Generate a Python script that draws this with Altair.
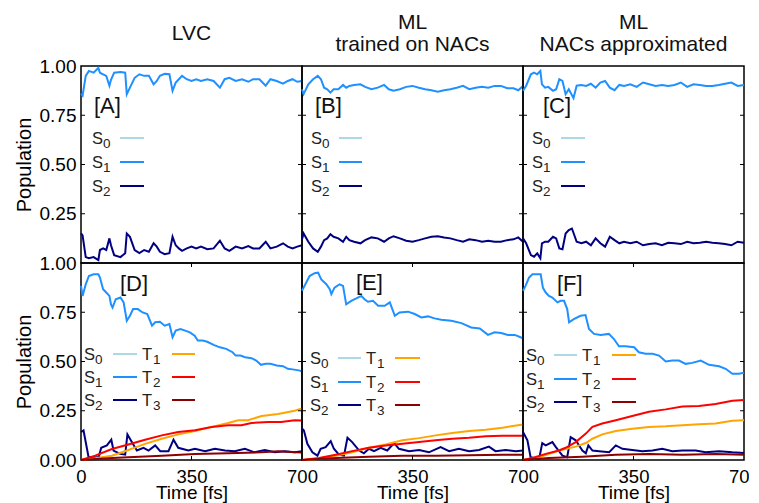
import altair as alt
import pandas as pd

FONT = "Liberation Sans"
W, H = 221, 197

STATES = ["S0", "S1", "S2", "T1", "T2", "T3"]
COLORS = ["#add8e6", "#1e90ff", "#000080", "#ffa500", "#ff0000", "#8b0000"]

COL_TITLES = [["LVC"], ["ML", "trained on NACs"], ["ML", "NACs approximated"]]
PANEL_LABELS = ["[A]", "[B]", "[C]", "[D]", "[E]", "[F]"]
Y_TICKS = [0.25, 0.5, 0.75]
X_INNER_TICKS = [350]
Y_LABELS_TOP = [0.25, 0.5, 0.75, 1.0]
Y_LABELS_BOTTOM = [0.0, 0.25, 0.5, 0.75, 1.0]
X_LABELS_FIRST = [0, 350, 700]
X_LABELS_OTHER = [350, 700]

# ---------------- data: time [fs] and population ----------------
# [A] LVC, singlets only
a_s1_t = [0, 5, 15, 25, 40, 55, 60, 70, 80, 90, 95, 105, 125, 140, 145, 155, 170, 185, 200, 215,
          230, 240, 250, 265, 280, 290, 300, 310, 320, 335, 350, 365, 380, 400, 420, 440, 455, 470, 490, 510,
          530, 545, 565, 585, 600, 620, 640, 655, 670, 685, 700]
a_s1 = [0.86, 0.85, 0.95, 0.975, 0.966, 0.99, 0.966, 0.958, 0.95, 0.90, 0.93, 0.966, 0.97, 0.966, 0.857, 0.89, 0.94, 0.958, 0.95, 0.95,
        0.907, 0.924, 0.95, 0.96, 0.958, 0.874, 0.916, 0.933, 0.95, 0.933, 0.924, 0.933, 0.924, 0.933, 0.924, 0.89, 0.933, 0.94, 0.924, 0.933,
        0.92, 0.933, 0.933, 0.90, 0.933, 0.924, 0.91, 0.924, 0.933, 0.92, 0.924]
a_s2_t = a_s1_t
a_s2 = [0.15, 0.14, 0.03, 0.024, 0.03, 0.015, 0.066, 0.074, 0.066, 0.125, 0.09, 0.04, 0.03, 0.05, 0.15, 0.133, 0.066, 0.05, 0.066, 0.057,
        0.10, 0.083, 0.057, 0.045, 0.05, 0.133, 0.09, 0.074, 0.062, 0.074, 0.083, 0.074, 0.083, 0.07, 0.074, 0.113, 0.074, 0.062, 0.083, 0.074,
        0.086, 0.074, 0.074, 0.108, 0.074, 0.083, 0.10, 0.083, 0.074, 0.083, 0.09]

# [B] ML trained on NACs, singlets only
b_s1_t = [0, 5, 20, 35, 50, 60, 70, 80, 90, 100, 115, 130, 140, 150, 165, 185, 200, 220, 240, 260,
          275, 290, 310, 330, 350, 370, 390, 410, 430, 450, 470, 490, 510, 530, 550, 570, 590, 610, 630, 650,
          670, 685, 700]
b_s1 = [0.882, 0.857, 0.907, 0.933, 0.95, 0.933, 0.89, 0.882, 0.865, 0.882, 0.882, 0.904, 0.89, 0.899, 0.904, 0.907, 0.894, 0.882, 0.89, 0.904,
        0.882, 0.874, 0.882, 0.894, 0.899, 0.89, 0.882, 0.877, 0.87, 0.877, 0.882, 0.89, 0.899, 0.882, 0.89, 0.894, 0.89, 0.899, 0.899, 0.887,
        0.887, 0.877, 0.899]
b_s2_t = b_s1_t
b_s2 = [0.12, 0.15, 0.108, 0.074, 0.057, 0.083, 0.116, 0.125, 0.146, 0.133, 0.125, 0.108, 0.133, 0.116, 0.108, 0.10, 0.116, 0.13, 0.125, 0.108,
        0.125, 0.136, 0.125, 0.113, 0.108, 0.116, 0.125, 0.133, 0.136, 0.13, 0.125, 0.116, 0.108, 0.12, 0.116, 0.108, 0.113, 0.108, 0.108, 0.116,
        0.12, 0.13, 0.108]

# [C] ML NACs approximated, singlets only
c_s1_t = [0, 10, 25, 35, 45, 55, 60, 70, 80, 95, 105, 115, 125, 135, 145, 160, 170, 185, 200, 215,
          230, 245, 260, 275, 290, 305, 320, 340, 360, 380, 400, 420, 440, 460, 480, 500, 520, 540, 560, 580,
          600, 620, 640, 660, 680, 700]
c_s1 = [0.874, 0.90, 0.958, 0.966, 0.958, 0.975, 0.907, 0.89, 0.894, 0.874, 0.882, 0.933, 0.924, 0.857, 0.882, 0.837, 0.90, 0.904, 0.899, 0.91,
        0.89, 0.916, 0.924, 0.89, 0.877, 0.904, 0.899, 0.907, 0.894, 0.916, 0.907, 0.899, 0.904, 0.899, 0.904, 0.916, 0.894, 0.907, 0.904, 0.899,
        0.899, 0.904, 0.91, 0.916, 0.899, 0.904]
c_s2_t = [0, 10, 25, 35, 45, 55, 60, 70, 80, 95, 105, 115, 125, 135, 145, 155, 170, 185, 200, 215,
          230, 245, 260, 275, 290, 305, 320, 340, 360, 380, 400, 420, 440, 460, 480, 500, 520, 540, 560, 580,
          600, 620, 640, 660, 680, 700]
c_s2 = [0.125, 0.10, 0.04, 0.032, 0.049, 0.024, 0.10, 0.108, 0.108, 0.133, 0.125, 0.074, 0.07, 0.15, 0.167, 0.175, 0.108, 0.10, 0.108, 0.09,
        0.125, 0.10, 0.083, 0.133, 0.116, 0.10, 0.108, 0.10, 0.108, 0.09, 0.096, 0.10, 0.09, 0.103, 0.10, 0.096, 0.108, 0.10, 0.103, 0.108,
        0.103, 0.10, 0.096, 0.09, 0.108, 0.103]

# [D] LVC, singlets and triplets
d_s1_t = [0, 5, 15, 25, 40, 55, 60, 70, 80, 90, 95, 100, 110, 125, 135, 145, 155, 165, 180, 195,
          210, 225, 235, 250, 265, 280, 290, 300, 315, 330, 345, 360, 370, 385, 400, 420, 440, 460, 480, 490,
          505, 520, 540, 555, 570, 585, 600, 620, 640, 655, 670, 690, 700]
d_s1 = [0.884, 0.833, 0.892, 0.934, 0.943, 0.943, 0.926, 0.867, 0.85, 0.833, 0.79, 0.774, 0.816, 0.825, 0.80, 0.707, 0.732, 0.766, 0.766, 0.749,
        0.741, 0.682, 0.699, 0.702, 0.682, 0.69, 0.623, 0.657, 0.665, 0.657, 0.648, 0.631, 0.606, 0.606, 0.60, 0.584, 0.572, 0.564, 0.547, 0.53,
        0.53, 0.522, 0.517, 0.505, 0.483, 0.488, 0.488, 0.48, 0.476, 0.463, 0.46, 0.455, 0.45]
d_s2_t = [0, 8, 24, 56, 64, 82, 96, 103, 124, 140, 147, 161, 177, 198, 214, 235, 251, 277, 293, 308,
          340, 361, 393, 424, 456, 487, 519, 550, 582, 614, 645, 677, 700]
d_s2 = [0.142, 0.15, 0.014, 0.014, 0.062, 0.074, 0.103, 0.048, 0.031, 0.027, 0.13, 0.091, 0.048, 0.062, 0.048, 0.074, 0.045, 0.045, 0.103, 0.062,
        0.048, 0.057, 0.045, 0.057, 0.048, 0.045, 0.057, 0.039, 0.051, 0.039, 0.045, 0.039, 0.045]
d_t1_t = [0, 45, 98, 150, 203, 256, 308, 361, 414, 466, 498, 529, 572, 624, 677, 700]
d_t1 = [0, 0.009, 0.022, 0.051, 0.082, 0.108, 0.13, 0.147, 0.168, 0.188, 0.202, 0.202, 0.223, 0.233, 0.25, 0.262]
d_t2_t = [0, 45, 98, 150, 203, 256, 308, 361, 414, 466, 508, 540, 593, 634, 677, 700]
d_t2 = [0, 0.022, 0.056, 0.079, 0.103, 0.125, 0.142, 0.151, 0.168, 0.176, 0.176, 0.188, 0.193, 0.193, 0.202, 0.2]
d_t3_t = [0, 98, 150, 256, 361, 466, 572, 624, 677, 700]
d_t3 = [0, 0.01, 0.014, 0.022, 0.031, 0.034, 0.039, 0.045, 0.039, 0.038]

# [E] ML trained on NACs, singlets and triplets
e_s1_t = [0, 8, 24, 40, 51, 61, 77, 88, 93, 103, 119, 130, 140, 156, 172, 188, 198, 209, 225, 241,
          262, 278, 294, 309, 336, 357, 378, 399, 420, 441, 473, 505, 536, 563, 589, 610, 631, 652, 674, 700]
e_s1 = [0.859, 0.884, 0.934, 0.948, 0.951, 0.917, 0.892, 0.867, 0.842, 0.875, 0.892, 0.884, 0.79, 0.808, 0.82, 0.833, 0.816, 0.803, 0.808, 0.783,
        0.783, 0.80, 0.732, 0.749, 0.753, 0.741, 0.724, 0.729, 0.719, 0.712, 0.707, 0.695, 0.673, 0.668, 0.635, 0.648, 0.645, 0.635, 0.635, 0.618]
e_s2_t = [0, 6, 17, 33, 49, 59, 75, 91, 101, 117, 133, 144, 159, 181, 196, 212, 228, 249, 270, 292,
          307, 339, 371, 402, 439, 466, 497, 529, 561, 592, 613, 645, 677, 700]
e_s2 = [0.16, 0.15, 0.082, 0.039, 0.022, 0.057, 0.065, 0.096, 0.057, 0.027, 0.022, 0.113, 0.091, 0.048, 0.034, 0.057, 0.045, 0.062, 0.048, 0.086,
        0.057, 0.045, 0.051, 0.039, 0.065, 0.045, 0.057, 0.045, 0.051, 0.068, 0.045, 0.051, 0.045, 0.048]
e_t1_t = [0, 54, 107, 159, 212, 265, 318, 371, 423, 476, 529, 582, 635, 700]
e_t1 = [0, 0.005, 0.022, 0.039, 0.062, 0.079, 0.1, 0.111, 0.125, 0.137, 0.147, 0.154, 0.164, 0.18]
e_t2_t = [0, 54, 107, 159, 212, 265, 318, 371, 423, 476, 529, 582, 635, 700]
e_t2 = [0, 0.01, 0.027, 0.045, 0.062, 0.074, 0.082, 0.091, 0.1, 0.108, 0.113, 0.12, 0.123, 0.123]
e_t3_t = [0, 107, 212, 318, 423, 529, 635, 700]
e_t3 = [0, 0.01, 0.017, 0.021, 0.022, 0.024, 0.027, 0.027]

# [F] ML NACs approximated, singlets and triplets
f_s1_t = [0, 8, 19, 30, 45, 56, 63, 72, 82, 93, 109, 119, 130, 140, 146, 161, 182, 198, 209, 225,
          246, 272, 288, 304, 325, 352, 367, 388, 410, 431, 452, 473, 494, 515, 536, 563, 589, 621, 642, 663,
          684, 700]
f_s1 = [0.859, 0.884, 0.926, 0.943, 0.943, 0.943, 0.875, 0.85, 0.833, 0.825, 0.80, 0.808, 0.808, 0.766, 0.699, 0.715, 0.732, 0.736, 0.665, 0.64,
        0.635, 0.64, 0.614, 0.577, 0.577, 0.572, 0.547, 0.539, 0.539, 0.53, 0.50, 0.505, 0.505, 0.488, 0.493, 0.505, 0.483, 0.476, 0.463, 0.438,
        0.438, 0.443]
f_s2_t = [0, 14, 24, 51, 61, 72, 93, 103, 125, 140, 151, 167, 188, 199, 207, 220, 241, 273, 294, 315,
          346, 378, 410, 441, 473, 505, 547, 578, 621, 663, 700]
f_s2 = [0.142, 0.1, 0.014, 0.005, 0.086, 0.074, 0.091, 0.068, 0.022, 0.014, 0.116, 0.1, 0.048, 0.034, 0.074, 0.048, 0.045, 0.039, 0.074, 0.057,
        0.051, 0.045, 0.048, 0.057, 0.045, 0.048, 0.048, 0.039, 0.045, 0.039, 0.036]
f_t1_t = [0, 51, 114, 167, 199, 220, 251, 294, 346, 399, 452, 505, 557, 610, 663, 700]
f_t1 = [0, 0.014, 0.048, 0.068, 0.086, 0.108, 0.13, 0.147, 0.159, 0.168, 0.171, 0.176, 0.182, 0.185, 0.199, 0.202]
f_t2_t = [0, 30, 72, 114, 135, 167, 199, 220, 251, 294, 346, 399, 452, 505, 557, 610, 663, 700]
f_t2 = [0, 0.01, 0.031, 0.048, 0.062, 0.091, 0.134, 0.168, 0.185, 0.202, 0.223, 0.245, 0.257, 0.271, 0.274, 0.284, 0.301, 0.305]
f_t3_t = [0, 82, 188, 294, 399, 505, 610, 700]
f_t3 = [0, 0.01, 0.017, 0.027, 0.031, 0.027, 0.031, 0.027]

PANEL_SERIES = [
    [("S1", a_s1_t, a_s1), ("S2", a_s2_t, a_s2)],
    [("S1", b_s1_t, b_s1), ("S2", b_s2_t, b_s2)],
    [("S1", c_s1_t, c_s1), ("S2", c_s2_t, c_s2)],
    [("S1", d_s1_t, d_s1), ("S2", d_s2_t, d_s2), ("T1", d_t1_t, d_t1), ("T2", d_t2_t, d_t2), ("T3", d_t3_t, d_t3)],
    [("S1", e_s1_t, e_s1), ("S2", e_s2_t, e_s2), ("T1", e_t1_t, e_t1), ("T2", e_t2_t, e_t2), ("T3", e_t3_t, e_t3)],
    [("S1", f_s1_t, f_s1), ("S2", f_s2_t, f_s2), ("T1", f_t1_t, f_t1), ("T2", f_t2_t, f_t2), ("T3", f_t3_t, f_t3)],
]

# ---------------- layout (pixels inside each panel) ----------------
LEGEND_LAYOUT = [
    dict(lx=[11], base=[78, 102, 126], sw=[(39, 63)]),
    dict(lx=[9], base=[78, 102, 126], sw=[(37, 60)]),
    dict(lx=[9], base=[78, 102, 126], sw=[(38, 62)]),
    dict(lx=[3, 61], base=[97, 120, 143], sw=[(32, 56), (91, 114)]),
    dict(lx=[8, 64], base=[101, 125, 148], sw=[(36, 59), (93, 118)]),
    dict(lx=[3, 59], base=[98, 122, 145], sw=[(31, 54), (89, 113)]),
]
LABEL_POS = [(13, 47), (13, 47), (20, 47), (39, 28), (54, 27), (34, 28)]
TITLE_Y = {1: -26, 2: -37}

ONE = pd.DataFrame({"k": [0]})
color_map = dict(zip(STATES, COLORS))

xs = alt.Scale(domain=[0, 700], nice=False, zero=False)
ys = alt.Scale(domain=[0, 1], nice=False, zero=False)


def y_axis(values):
    return alt.Axis(values=values, format=".2f", ticks=False, domain=False, grid=False,
                    labelFont=FONT, labelFontSize=19, labelColor="black", labelPadding=5,
                    labelOverlap=False,
                    title="Population", titleFont=FONT, titleFontSize=20,
                    titleFontWeight="normal", titleColor="black", titlePadding=5)


def x_axis(values):
    return alt.Axis(values=values, format="d", ticks=False, domain=False, grid=False,
                    labelFlush=False, labelOverlap=False,
                    labelFont=FONT, labelFontSize=18.5, labelColor="black", labelPadding=7,
                    title="Time [fs]", titleFont=FONT, titleFontSize=19,
                    titleFontWeight="normal", titleColor="black", titlePadding=-2)


def make_df(series):
    rows = []
    for name, ts, vs in series:
        for t, v in zip(ts, vs):
            rows.append({"state": name, "t": t, "pop": v})
    return pd.DataFrame(rows)


def text_layer(x, y, txt, size, align="left", color="#1a1a1a", line_height=None):
    kw = dict(align=align, baseline="alphabetic", font=FONT, fontSize=size, color=color)
    if line_height:
        kw["lineHeight"] = line_height
    return alt.Chart(ONE).mark_text(**kw).encode(
        x=alt.value(x), y=alt.value(y), text=alt.value(txt))


def build_panel(i):
    row, col = divmod(i, 3)
    bottom = row == 1
    xaxis = x_axis(X_LABELS_FIRST if col == 0 else X_LABELS_OTHER) if bottom else None
    yaxis = y_axis(Y_LABELS_BOTTOM if bottom else Y_LABELS_TOP) if col == 0 else None
    X = alt.X("t:Q", scale=xs, axis=xaxis)
    Y = alt.Y("pop:Q", scale=ys, axis=yaxis)

    layers = []
    df = make_df(PANEL_SERIES[i])
    layers.append(alt.Chart(df).mark_line(strokeWidth=2).encode(
        x=X, y=Y,
        color=alt.Color("state:N", scale=alt.Scale(domain=STATES, range=COLORS), legend=None)))

    ytk = pd.DataFrame({"pop": Y_TICKS})
    layers.append(alt.Chart(ytk).mark_rule(color="black", strokeWidth=1).encode(
        y=Y, x=alt.value(0), x2=alt.value(4)))
    layers.append(alt.Chart(ytk).mark_rule(color="black", strokeWidth=1).encode(
        y=Y, x=alt.value(W - 4), x2=alt.value(W)))
    if bottom:
        xtk = pd.DataFrame({"t": X_INNER_TICKS})
        layers.append(alt.Chart(xtk).mark_rule(color="black", strokeWidth=1).encode(
            x=X, y=alt.value(0), y2=alt.value(4)))
        layers.append(alt.Chart(xtk).mark_rule(color="black", strokeWidth=1).encode(
            x=X, y=alt.value(H - 4), y2=alt.value(H)))

    # legend
    lay = LEGEND_LAYOUT[i]
    cols = [("S", ["0", "1", "2"], ["S0", "S1", "S2"])]
    if bottom:
        cols.append(("T", ["1", "2", "3"], ["T1", "T2", "T3"]))
    for c, (letter, subs, names) in enumerate(cols):
        lx = lay["lx"][c]
        x1, x2 = lay["sw"][c]
        for r, (sub, name) in enumerate(zip(subs, names)):
            b = lay["base"][r]
            layers.append(text_layer(lx, b, letter, 16.5, color="#222222"))
            layers.append(text_layer(lx + 11, b + 4, sub, 13.5, color="#222222"))
            layers.append(alt.Chart(ONE).mark_rule(color=color_map[name], strokeWidth=2).encode(
                x=alt.value(x1), x2=alt.value(x2), y=alt.value(b - 6)))

    # panel label
    px, py = LABEL_POS[i]
    layers.append(text_layer(px, py, PANEL_LABELS[i], 22, color="#111111"))

    # column titles
    if not bottom:
        lines = COL_TITLES[col]
        txt = lines if len(lines) > 1 else lines[0]
        layers.append(text_layer(W / 2, TITLE_Y[len(lines)], txt, 21, align="center",
                                 color="#111111", line_height=22))

    return alt.layer(*layers).properties(width=W, height=H)


panels = [build_panel(i) for i in range(6)]

chart = alt.concat(*panels, columns=3, spacing=0, bounds="flush").properties(
    padding={"left": 5, "top": 3, "right": -12, "bottom": 0},
    background="white",
).configure_view(stroke="black", strokeWidth=1.5)

chart.save("out.html", embed_options={"renderer": "svg", "actions": False})
